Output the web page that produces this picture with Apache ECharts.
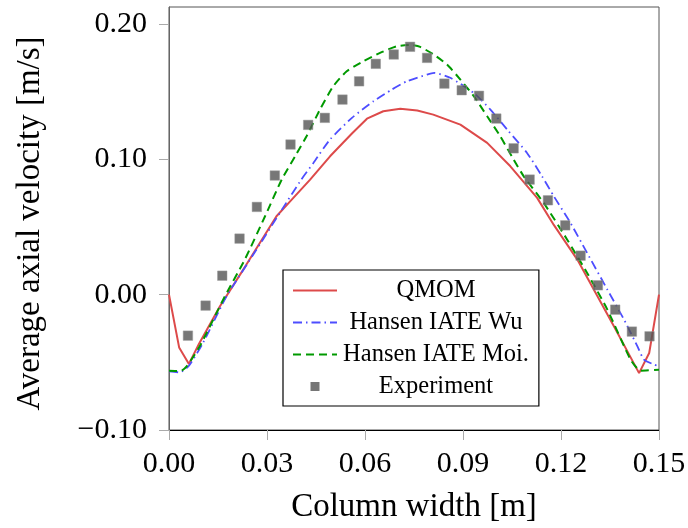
<!DOCTYPE html>
<html><head><meta charset="utf-8">
<script src="https://cdn.jsdelivr.net/npm/echarts@6/dist/echarts.min.js"></script>
<style>html,body{margin:0;padding:0;background:#fff}#c{width:688px;height:528px}</style>
</head><body><div id="c"></div>
<script>
var xTicks = [0, 0.03, 0.06, 0.09, 0.12, 0.15];
var yTicks = [-0.1, 0, 0.1, 0.2];

var qmomX = [0, 0.0031, 0.0061, 0.0092, 0.0156, 0.0237, 0.0329, 0.0375, 0.0432, 0.0493, 0.0560, 0.0606, 0.0656, 0.0708, 0.0760, 0.0809, 0.0892, 0.0974, 0.1045, 0.1127, 0.1178, 0.1250, 0.1362, 0.1439, 0.1470, 0.1500];
var qmomY = [0, -0.0390, -0.0512, -0.0362, -0.0086, 0.0222, 0.0579, 0.0700, 0.0850, 0.1022, 0.1190, 0.1300, 0.1355, 0.1373, 0.1360, 0.1330, 0.1256, 0.1121, 0.0948, 0.0715, 0.0515, 0.0259, -0.0234, -0.0580, -0.0431, 0];

var wuX = [0, 0.0033, 0.0061, 0.0104, 0.0176, 0.0268, 0.0349, 0.0405, 0.0442, 0.0493, 0.0560, 0.0626, 0.0682, 0.0728, 0.0790, 0.0812, 0.0861, 0.0933, 0.0984, 0.1035, 0.1096, 0.1142, 0.1178, 0.1229, 0.1280, 0.1342, 0.1393, 0.1434, 0.1454, 0.1485, 0.1500];
var wuY = [-0.0567, -0.0574, -0.0525, -0.0357, -0.0013, 0.0333, 0.0641, 0.0850, 0.0973, 0.1146, 0.1306, 0.1429, 0.1515, 0.1576, 0.1626, 0.1638, 0.1602, 0.1490, 0.1367, 0.1220, 0.1047, 0.0874, 0.0727, 0.0530, 0.0308, 0.0037, -0.0185, -0.0382, -0.0480, -0.0517, -0.0530];

var moiX = [0, 0.0035, 0.0054, 0.0094, 0.0171, 0.0232, 0.0294, 0.0345, 0.0386, 0.0421, 0.0462, 0.0503, 0.0544, 0.0595, 0.0646, 0.0698, 0.0740, 0.0769, 0.0810, 0.0851, 0.0892, 0.0933, 0.0974, 0.1014, 0.1055, 0.1086, 0.1147, 0.1219, 0.1280, 0.1342, 0.1413, 0.1444, 0.1500];
var moiY = [-0.0562, -0.0565, -0.0530, -0.0382, -0.0013, 0.0259, 0.0579, 0.0850, 0.1022, 0.1170, 0.1367, 0.1540, 0.1650, 0.1724, 0.1786, 0.1835, 0.1845, 0.1830, 0.1774, 0.1700, 0.1589, 0.1466, 0.1318, 0.1170, 0.0998, 0.0874, 0.0678, 0.0406, 0.0160, -0.0111, -0.0480, -0.0562, -0.0554];

var expX = [0.0058, 0.0112, 0.0163, 0.0216, 0.0269, 0.0324, 0.0372, 0.0426, 0.0477, 0.0531, 0.0582, 0.0633, 0.0688, 0.0738, 0.0790, 0.0843, 0.0896, 0.0949, 0.1002, 0.1055, 0.1104, 0.1160, 0.1213, 0.1260, 0.1313, 0.1366, 0.1417, 0.1471];
var expY = [-0.0303, -0.0081, 0.0140, 0.0414, 0.0648, 0.0880, 0.1109, 0.1254, 0.1306, 0.1441, 0.1576, 0.1705, 0.1774, 0.1831, 0.1749, 0.1559, 0.1510, 0.1469, 0.1301, 0.1081, 0.0850, 0.0697, 0.0512, 0.0288, 0.0069, -0.0111, -0.0273, -0.0308];

var names = ['QMOM', 'Hansen IATE Wu', 'Hansen IATE Moi.', 'Experiment'];

function zip(a, b) { return a.map(function (v, i) { return [v, b[i]]; }); }
function fmt(v) { var s = Math.abs(v).toFixed(2); return v < -1e-9 ? '\u2212' + s : s; }

var squareIcon = 'image://data:image/svg+xml;charset=utf-8,' + encodeURIComponent(
  '<svg xmlns="http://www.w3.org/2000/svg" width="44" height="9" viewBox="0 0 44 9">' +
  '<rect x="17.5" y="0" width="9" height="9" fill="#555555"/></svg>');

var FONT = 'Liberation Serif';
var chart = echarts.init(document.getElementById('c'), null, { renderer: 'canvas' });
chart.setOption({
  animation: false,
  backgroundColor: '#fff',
  grid: { left: 169, right: 29, top: 7, bottom: 98, show: true, borderColor: '#555', borderWidth: 1, outerBoundsMode: 'none' },
  xAxis: {
    type: 'value', min: 0, max: 0.15, interval: 0.03,
    name: 'Column width [m]', nameLocation: 'middle', nameGap: 61,
    nameTextStyle: { fontFamily: FONT, fontSize: 33, color: '#000' },
    axisLine: { show: true, onZero: false, lineStyle: { color: '#000', width: 1 } },
    axisTick: { show: true, inside: false, length: 10, lineStyle: { color: '#aaa' }, customValues: xTicks },
    axisLabel: { fontFamily: FONT, fontSize: 30, color: '#000', margin: 19, formatter: fmt, customValues: xTicks },
    splitLine: { show: false }
  },
  yAxis: {
    type: 'value', min: -0.1, max: 0.2125,
    name: 'Average axial velocity [m/s]', nameLocation: 'middle', nameGap: 122, nameRotate: 90,
    nameTextStyle: { fontFamily: FONT, fontSize: 33, color: '#000', padding: [0, 10, 0, 0] },
    axisLine: { show: true, onZero: false, lineStyle: { color: '#666', width: 1 } },
    axisTick: { show: true, inside: false, length: 10, lineStyle: { color: '#aaa' }, customValues: yTicks },
    axisLabel: { fontFamily: FONT, fontSize: 30, color: '#000', margin: 22, formatter: fmt, customValues: yTicks },
    splitLine: { show: false }
  },
  legend: {
    orient: 'vertical', left: 283, top: 270,
    padding: [8, 10, 7, 9], itemGap: 7, itemWidth: 44, itemHeight: 9,
    backgroundColor: '#fff', borderColor: '#000', borderWidth: 1.2,
    data: [
      { name: names[0], itemStyle: { opacity: 0 } },
      { name: names[1], itemStyle: { opacity: 0 } },
      { name: names[2], itemStyle: { opacity: 0 } },
      { name: names[3], icon: squareIcon }
    ],
    formatter: function (n) { return '{c|' + n + '}'; },
    textStyle: {
      fontFamily: FONT, fontSize: 24.5, color: '#000',
      rich: { c: { fontFamily: FONT, fontSize: 24.5, color: '#000', width: 188, align: 'center' } }
    }
  },
  series: [
    { name: names[0], type: 'line', data: zip(qmomX, qmomY), symbol: 'none', z: 3,
      lineStyle: { color: '#dd4a4a', width: 2 }, itemStyle: { color: '#dd4a4a' } },
    { name: names[1], type: 'line', data: zip(wuX, wuY), symbol: 'none', smooth: 0.2, z: 4,
      lineStyle: { color: '#4d4dff', width: 1.8, type: [9, 4, 1.5, 4] }, itemStyle: { color: '#4d4dff' } },
    { name: names[2], type: 'line', data: zip(moiX, moiY), symbol: 'none', smooth: 0.2, z: 5,
      lineStyle: { color: '#009900', width: 2, type: [8, 5] }, itemStyle: { color: '#009900' } },
    { name: names[3], type: 'scatter', data: zip(expX, expY), symbol: 'rect', symbolSize: 9.5, z: 6,
      itemStyle: { color: '#555555', borderColor: '#999', borderWidth: 0.6 } }
  ]
});
</script>
</body></html>
